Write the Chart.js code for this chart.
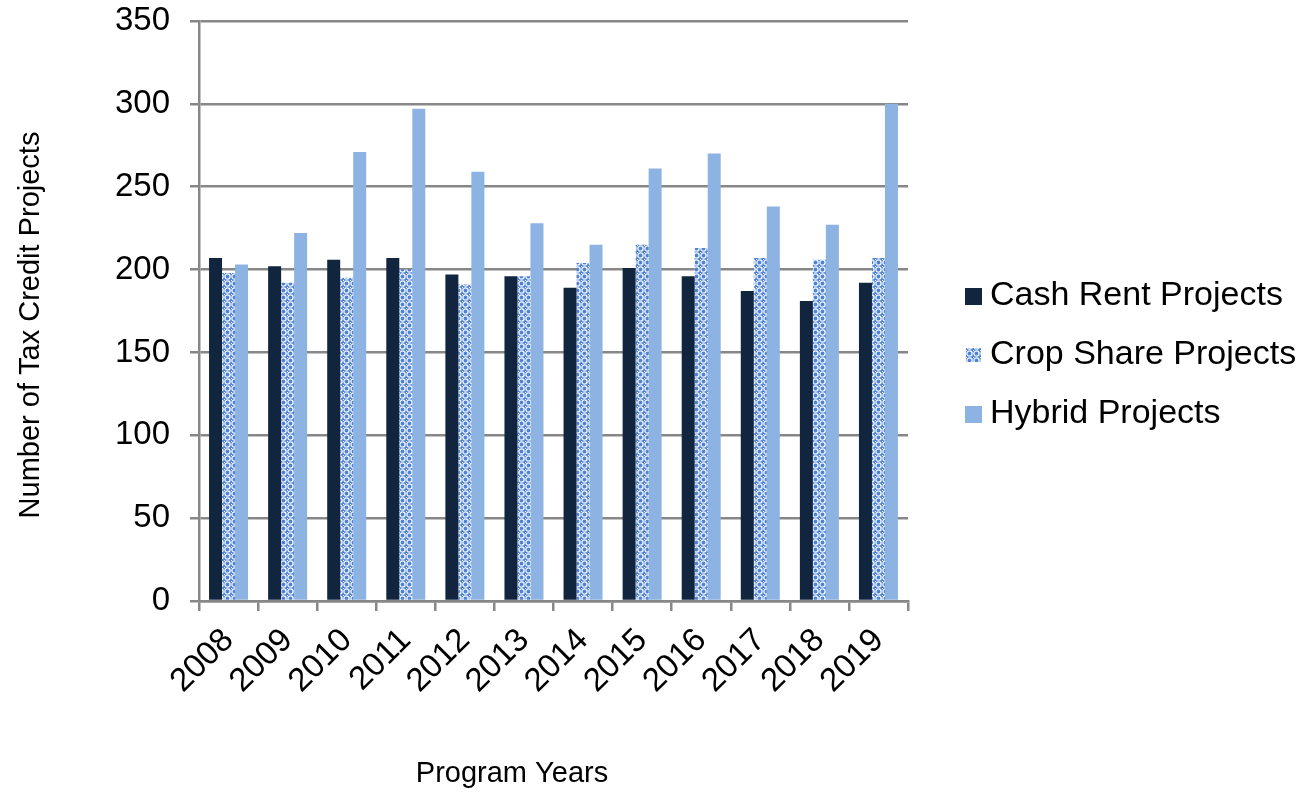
<!DOCTYPE html>
<html>
<head>
<meta charset="utf-8">
<script src="https://cdn.jsdelivr.net/npm/chart.js@4/dist/chart.umd.min.js"></script>
<style>
  html, body { margin: 0; padding: 0; background: #ffffff; }
  #wrap { width: 1306px; height: 796px; }
</style>
</head>
<body>
<div id="wrap"><canvas id="c" width="1306" height="796"></canvas></div>
<script>
// Program years and project counts per lease type
const years = ['2008', '2009', '2010', '2011', '2012', '2013', '2014', '2015', '2016', '2017', '2018', '2019'];
const cashRent = [207, 202, 206, 207, 197, 196, 189, 201, 196, 187, 181, 192];
const cropShare = [198, 192, 195, 200, 191, 196, 204, 215, 213, 207, 206, 207];
const hybrid = [203, 222, 271, 297, 259, 228, 215, 261, 270, 238, 227, 300];
const yTicks = [0, 50, 100, 150, 200, 250, 300, 350];

const FONT = "'Liberation Sans', Arial, sans-serif";
const GRID = '#878787';

// Dotted lattice fill used for the crop share series
function latticePattern() {
  const t = document.createElement('canvas');
  t.width = 7; t.height = 7;
  const g = t.getContext('2d');
  g.fillStyle = '#4f83d6';
  g.fillRect(0, 0, 7, 7);
  g.strokeStyle = 'rgba(255,255,255,0.95)';
  g.lineWidth = 1.3;
  g.beginPath();
  g.arc(3.5, 3.5, 2.6, 0, Math.PI * 2);
  g.stroke();
  g.fillStyle = '#ffffff';
  g.fillRect(0, 0, 1, 1);
  return document.getElementById('c').getContext('2d').createPattern(t, 'repeat');
}

const cropFill = latticePattern();

const seriesNames = ['Cash Rent Projects', 'Crop Share Projects', 'Hybrid Projects'];

// Axis titles and a legend placed to the right of the plot
const decorations = {
  id: 'decorations',
  afterDraw(chart) {
    const ctx = chart.ctx;
    const area = chart.chartArea;
    ctx.save();
    ctx.fillStyle = '#000000';
    ctx.font = '29px ' + FONT;
    ctx.textAlign = 'center';
    ctx.textBaseline = 'middle';
    ctx.fillText('Program Years', area.left + 313, 774);
    ctx.translate(31, 325);
    ctx.rotate(-Math.PI / 2);
    ctx.fillText('Number of Tax Credit Projects', 0, 0);
    ctx.restore();

    ctx.save();
    ctx.font = '34px ' + FONT;
    ctx.textAlign = 'left';
    ctx.textBaseline = 'middle';
    chart.data.datasets.forEach((ds, i) => {
      const cy = 296 + i * 59;
      const mx = area.right + 57;
      ctx.fillStyle = ds.backgroundColor;
      if (i === 1) ctx.fillRect(mx + 1, cy - 7, 15, 14);
      else ctx.fillRect(mx, cy - 8, 17, 17);
      ctx.fillStyle = '#000000';
      ctx.fillText(ds.label, mx + 25, cy);
    });
    ctx.restore();
  }
};

new Chart(document.getElementById('c'), {
  type: 'bar',
  data: {
    labels: years,
    datasets: [
      { label: seriesNames[0], data: cashRent, backgroundColor: '#11253f' },
      { label: seriesNames[1], data: cropShare, backgroundColor: cropFill },
      { label: seriesNames[2], data: hybrid, backgroundColor: '#8db3e2' }
    ]
  },
  options: {
    responsive: false,
    animation: false,
    devicePixelRatio: 1,
    layout: { padding: { left: 0, right: 398, top: 21, bottom: 0 } },
    datasets: { bar: { categoryPercentage: 0.66, barPercentage: 1.0, borderWidth: 0 } },
    plugins: {
      legend: { display: false },
      tooltip: { enabled: false }
    },
    scales: {
      x: {
        offset: true,
        grid: {
          display: true,
          offset: true,
          drawOnChartArea: false,
          drawTicks: true,
          tickLength: 10,
          color: GRID,
          lineWidth: 2.5
        },
        border: { display: true, color: GRID, width: 2.5 },
        ticks: {
          autoSkip: false,
          maxRotation: 45,
          minRotation: 45,
          padding: 10,
          color: '#000000',
          font: { family: FONT, size: 33 }
        },
        afterFit(scale) {
          scale.height = 195;
          scale.paddingLeft = 0;
          scale.paddingRight = 0;
        }
      },
      y: {
        min: 0,
        max: 350,
        afterBuildTicks(scale) { scale.ticks = yTicks.map(v => ({ value: v })); },
        grid: {
          color: GRID,
          lineWidth: 2.5,
          tickLength: 9,
          drawTicks: true
        },
        border: { display: true, color: GRID, width: 2.5 },
        ticks: {
          padding: 20,
          color: '#000000',
          font: { family: FONT, size: 33 }
        },
        afterFit(scale) {
          scale.width = 199;
          scale.paddingTop = 0;
          scale.paddingBottom = 0;
        }
      }
    }
  },
  plugins: [decorations]
});
</script>
</body>
</html>
